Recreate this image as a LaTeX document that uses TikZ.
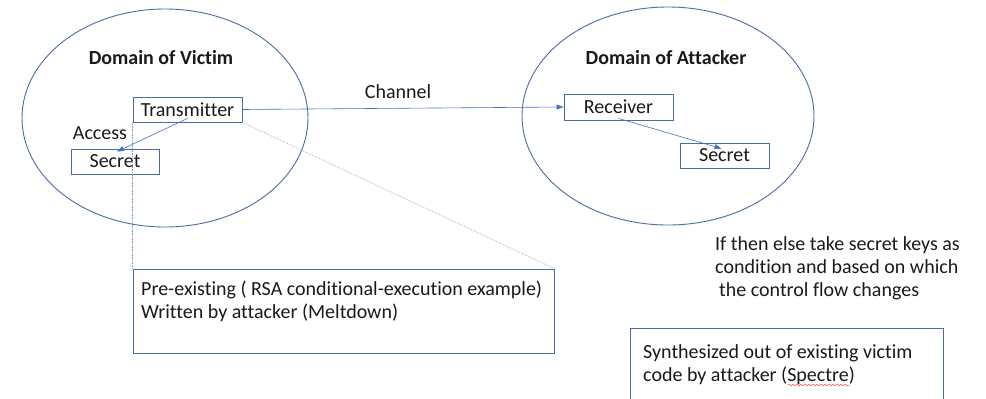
\documentclass[tikz,border=0pt]{standalone}
\usepackage{fontspec}
\setmainfont[Ligatures={NoCommon}]{Carlito}
\usetikzlibrary{shapes.geometric,arrows.meta,decorations.pathmorphing}
\definecolor{rim}{HTML}{4A6DA8}
\definecolor{link}{HTML}{4472C4}
\definecolor{ink}{HTML}{1A1A1A}
\tikzset{
  realm/.style={draw=rim, line width=0.9pt, ellipse, inner sep=0pt},
  unitbox/.style={draw=rim, line width=0.9pt, rectangle, inner sep=0pt,
    font=\fontsize{20}{23}\selectfont, text=ink},
  notetext/.style={rectangle, inner sep=0pt, anchor=west, align=left,
    font=\fontsize{20}{23}\selectfont, text=ink},
  heading/.style={inner sep=0pt, font=\bfseries\fontsize{20}{23}\selectfont, text=ink},
  label/.style={inner sep=0pt, font=\fontsize{20}{23}\selectfont, text=ink},
  flowarrow/.style={draw=link, line width=0.6pt, -{Triangle[length=7pt,width=5pt]}},
  guideline/.style={draw=link!70, line width=0.6pt, densely dotted}
}
\begin{document}
\begin{tikzpicture}[x=1pt,y=-1pt]
  \useasboundingbox (0,0) rectangle (986,399);
  \clip (0,0) rectangle (986,399);
  \fill[white] (0,0) rectangle (986,399);

  % the two domains
  \node[realm, minimum width=286, minimum height=218] (victim) at (165,118) {};
  \node[realm, minimum width=292, minimum height=218] (attacker) at (668,116) {};
  \node[heading] (vt) at (161,58) {Domain of Victim};
  \node[heading] (at) at (666,58) {Domain of Attacker};

  % components
  \node[unitbox, minimum width=109, minimum height=25] (tx) at (187.5,109.5) {Transmitter};
  \node[unitbox, minimum width=88, minimum height=25] (sl) at (115,161.5) {Secret};
  \node[unitbox, minimum width=109, minimum height=26] (rx) at (618.5,107) {Receiver};
  \node[unitbox, minimum width=89, minimum height=25] (sr) at (724.5,155.5) {Secret};

  % lower boxes
  \node[draw=rim, line width=0.9pt, rectangle, inner sep=0pt,
        minimum width=421, minimum height=84] (pre) at (343.5,311) {};
  \node[notetext] (pretext) at (141,301) {Pre-existing ( RSA conditional-execution example)\\Written by attacker (Meltdown)};
  \node[draw=rim, line width=0.9pt, rectangle, inner sep=0pt, anchor=north west,
        minimum width=313, minimum height=90] (spec) at (630,328) {};
  \node[notetext] (spectext) at (643,365) {Synthesized out of existing victim\\code by attacker (Spectre)};
  \draw[red!75, line width=0.5pt, decorate,
        decoration={snake, amplitude=0.8pt, segment length=4pt}]
    (788,385) -- (850,385);

  % explanatory text
  \node[notetext] (cond) at (715,268) {If then else take secret keys as\\condition and based on which\\\hspace*{4pt}the control flow changes};

  % connectors
  \draw[flowarrow] (tx.east) -- (rx.west);
  \node[label] (chan) at (398,92) {Channel};
  \draw[flowarrow] ([yshift=4]tx.south) -- ([xshift=2,yshift=-3]sl.north);
  \node[label] (acc) at (100,133) {Access};
  \draw[flowarrow] ([yshift=2]rx.south) -- ([xshift=-3,yshift=-6]sr.north);

  % projections from the transmitter to its description
  \draw[guideline] (tx.south west) -- (pre.north west);
  \draw[guideline] (tx.south east) -- (pre.north east);
\end{tikzpicture}
\end{document}
